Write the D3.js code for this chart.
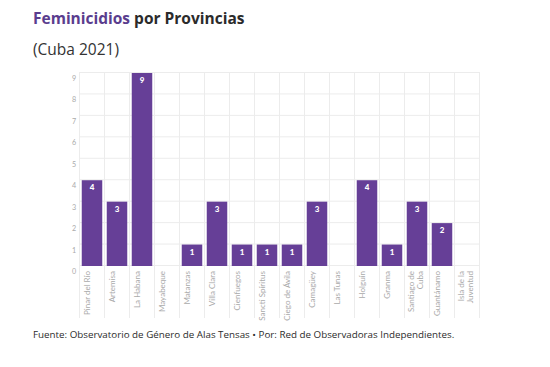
<!DOCTYPE html>
<html>
<head>
<meta charset="utf-8">
<script src="https://cdn.jsdelivr.net/npm/d3@7"></script>
<style>
  body { margin: 0; background: #fff; }
  svg { display: block; }
  .grid line { stroke: #ececec; stroke-width: 1; }
  .tick-label { font-family: Lato, "Open Sans", sans-serif; font-size: 7.2px; fill: #aaa; }
  .x-label { font-family: Lato, "Open Sans", sans-serif; font-size: 8px; fill: #aaa; }
  .value-label { font-family: Lato, sans-serif; font-size: 8px; font-weight: 900; fill: #fff; }
</style>
</head>
<body>
<svg id="chart" width="550" height="367"></svg>
<script>
// Data
const provinces = [
  "Pinar del Río", "Artemisa", "La Habana", "Mayabeque", "Matanzas", "Villa Clara",
  "Cienfuegos", "Sancti Spíritus", "Ciego de Ávila", "Camagüey", "Las Tunas",
  "Holguín", "Granma", "Santiago de|Cuba", "Guantánamo", "Isla de la|Juventud"
];
const cases = [4, 3, 9, 0, 1, 3, 1, 1, 1, 3, 0, 4, 1, 3, 2, 0];
const yTicks = [0, 1, 2, 3, 4, 5, 6, 7, 8, 9];

const barColor = "#663f97";

// Plot area
const plotLeft = 79.5, plotRight = 479.5, plotTop = 73, plotBottom = 266;

const svg = d3.select("#chart");

const x = d3.scaleBand()
  .domain(provinces)
  .range([plotLeft, plotRight])
  .paddingInner(0.18)
  .paddingOuter(0.09);

const y = d3.scaleLinear()
  .domain([0, 9])
  .range([plotBottom, plotTop]);

// Title
const title = svg.append("text")
  .attr("x", 33).attr("y", 24)
  .style("font-family", "'Open Sans', sans-serif")
  .style("font-size", "15.5px")
  .style("font-weight", 700);
title.append("tspan").attr("fill", "#5a3d8e").text("Feminicidios");
title.append("tspan").attr("fill", "#2b2b2b").text(" por Provincias");

svg.append("text")
  .attr("x", 33).attr("y", 55)
  .style("font-family", "'Open Sans', sans-serif")
  .style("font-size", "15.5px")
  .attr("fill", "#333")
  .text("(Cuba 2021)");

// Grid
const grid = svg.append("g").attr("class", "grid");
const cellEdges = d3.range(provinces.length + 1)
  .map(i => plotLeft + i * x.step());

grid.selectAll(".hline")
  .data(yTicks)
  .join("line")
  .attr("x1", plotLeft).attr("x2", plotRight)
  .attr("y1", d => y(d) - 0.5).attr("y2", d => y(d) - 0.5);

grid.selectAll(".vline")
  .data(cellEdges)
  .join("line")
  .attr("x1", d => d).attr("x2", d => d)
  .attr("y1", plotTop - 1).attr("y2", 318);

// Y axis labels
svg.append("g").selectAll("text")
  .data(yTicks)
  .join("text")
  .attr("class", "tick-label")
  .attr("x", 74)
  .attr("y", d => y(d) + 8)
  .attr("text-anchor", "middle")
  .text(d => d);

// Bars
svg.append("g").selectAll("rect")
  .data(cases)
  .join("rect")
  .attr("x", (d, i) => x(provinces[i]))
  .attr("width", x.bandwidth())
  .attr("y", d => y(d))
  .attr("height", d => plotBottom - y(d))
  .attr("fill", barColor);

// Value labels
svg.append("g").selectAll("text")
  .data(cases)
  .join("text")
  .attr("class", "value-label")
  .attr("x", (d, i) => x(provinces[i]) + x.bandwidth() / 2)
  .attr("y", d => y(d) + 10)
  .attr("text-anchor", "middle")
  .text(d => d > 0 ? d : "");

// X axis labels (rotated)
const xl = svg.append("g").selectAll("text")
  .data(provinces)
  .join("text")
  .attr("class", "x-label")
  .attr("text-anchor", "end")
  .attr("transform", d => {
    const cx = x(d) + x.bandwidth() / 2;
    return `translate(${cx},271) rotate(-90)`;
  });

xl.each(function(d) {
  const lines = d.split("|");
  const t = d3.select(this);
  const offsets = lines.length === 1 ? [-2.5] : [-3.5, 5.5];
  lines.forEach((ln, j) => {
    t.append("tspan")
      .attr("x", 0)
      .attr("y", offsets[j])
      .text(ln);
  });
});

// Footer
svg.append("text")
  .attr("x", 33).attr("y", 338)
  .style("font-family", "'Open Sans', sans-serif")
  .style("font-size", "9.8px")
  .attr("fill", "#2b2b2b")
  .text("Fuente: Observatorio de Género de Alas Tensas • Por: Red de Observadoras Independientes.");
</script>
</body>
</html>
